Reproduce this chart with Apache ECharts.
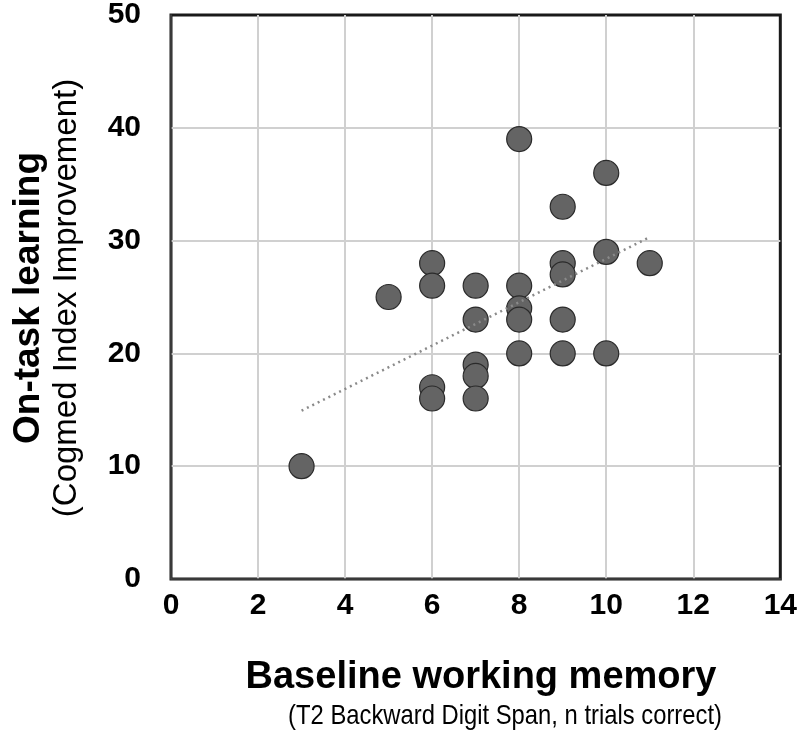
<!DOCTYPE html>
<html><head><meta charset="utf-8">
<script src="https://cdn.jsdelivr.net/npm/echarts@6/dist/echarts.min.js"></script>
<style>html,body{margin:0;padding:0;background:#fff}#c{width:800px;height:732px}</style>
</head><body><div id="c"></div>
<script>
var xValues = [3, 5, 6, 6, 6, 6, 7, 7, 7, 7, 7, 8, 8, 8, 8, 8, 9, 9, 9, 9, 9, 10, 10, 10, 11];
var yValues = [10, 25, 28, 26, 17, 16, 26, 23, 19, 18, 16, 39, 26, 24, 23, 20, 33, 28, 27, 23, 20, 36, 29, 20, 28];
var xTitle = 'Baseline working memory';
var xSub = '(T2 Backward Digit Span, n trials correct)';
var yTitle = 'On-task learning';
var ySub = '(Cogmed Index Improvement)';

var pts = xValues.map(function(x, i){ return [x, yValues[i]]; });
var n = xValues.length, mx = 0, my = 0;
for (var i = 0; i < n; i++){ mx += xValues[i]; my += yValues[i]; }
mx /= n; my /= n;
var sxx = 0, sxy = 0;
for (var i = 0; i < n; i++){ sxx += (xValues[i]-mx)*(xValues[i]-mx); sxy += (xValues[i]-mx)*(yValues[i]-my); }
var slope = sxy / sxx, icpt = my - slope * mx;
var xmin = Math.min.apply(null, xValues), xmax = Math.max.apply(null, xValues);
var trend = [[xmin, icpt + slope * xmin], [xmax, icpt + slope * xmax]];

var chart = echarts.init(document.getElementById('c'));
var font = 'Liberation Sans, Arial, sans-serif';
var split = { show: true, showMinLine: false, showMaxLine: false, lineStyle: { color: '#d0d0d0', width: 2 } };
var frameAxis = { show: true, axisLine: { show: true, lineStyle: { color: '#444', width: 1.5 } }, axisTick: { show: false }, axisLabel: { show: false }, splitLine: { show: false } };
chart.setOption({
  animation: false,
  grid: { left: 171, right: 19, top: 14, bottom: 153, show: true, borderColor: '#1a1a1a', borderWidth: 3, backgroundColor: '#fff' },
  xAxis: [
    { type: 'value', min: 0, max: 14, interval: 2,
      axisLine: { show: false }, axisTick: { show: false },
      splitLine: split,
      axisLabel: { fontFamily: font, fontWeight: 'bold', fontSize: 30, color: '#000', margin: 12 } },
    Object.assign({ type: 'value', min: 0, max: 14, position: 'bottom', offset: 3 }, frameAxis)
  ],
  yAxis: [
    { type: 'value', min: 0, max: 50, interval: 10,
      axisLine: { show: false }, axisTick: { show: false },
      splitLine: split,
      axisLabel: { fontFamily: font, fontWeight: 'bold', fontSize: 30, color: '#000', margin: 30 } },
    Object.assign({ type: 'value', min: 0, max: 50, position: 'left', offset: 3 }, frameAxis)
  ],
  series: [
    { type: 'line', data: trend, symbol: 'none', silent: true, z: 3,
      lineStyle: { color: '#8a8a8a', width: 2.5, type: [2, 4] } },
    { type: 'scatter', data: pts, symbolSize: 25, z: 2,
      itemStyle: { color: '#646464', borderColor: '#2a2a2a', borderWidth: 1.2, opacity: 1 } }
  ],
  graphic: [
    { type: 'text', x: 481, y: 678, style: { text: xTitle, font: 'bold 38px ' + font, fill: '#000', textAlign: 'center', textVerticalAlign: 'middle' } },
    { type: 'text', x: 505, y: 716, scaleX: 0.85, style: { text: xSub, font: '28px ' + font, fill: '#000', textAlign: 'center', textVerticalAlign: 'middle' } },
    { type: 'text', x: 29, y: 298, rotation: Math.PI/2, style: { text: yTitle, font: 'bold 37px ' + font, fill: '#000', textAlign: 'center', textVerticalAlign: 'middle' } },
    { type: 'text', x: 67, y: 298, rotation: Math.PI/2, style: { text: ySub, font: '33px ' + font, fill: '#000', textAlign: 'center', textVerticalAlign: 'middle' } }
  ]
});
</script></body></html>
